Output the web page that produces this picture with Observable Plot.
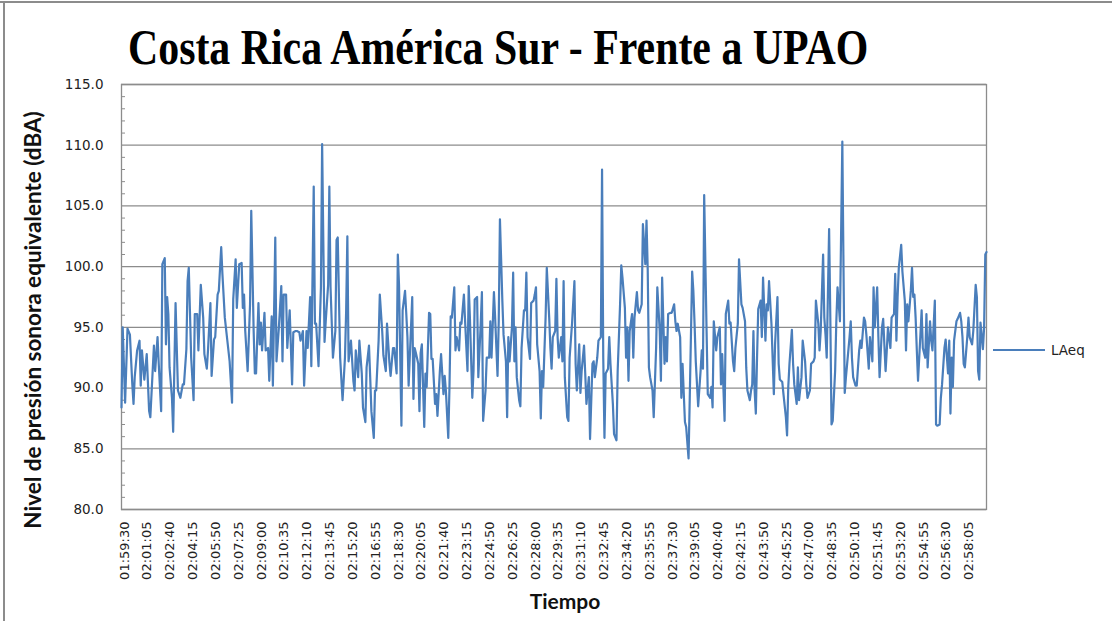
<!DOCTYPE html>
<html><head><meta charset="utf-8">
<script src="https://cdn.jsdelivr.net/npm/d3@7"></script>
<script src="https://cdn.jsdelivr.net/npm/@observablehq/plot@0.6"></script>
<style>
body{margin:0;background:#fff;overflow:hidden}
#wrap{position:relative;width:1112px;height:621px;overflow:hidden}
#head{position:relative;height:60px}
#title{position:absolute;left:128px;top:21px;font-family:"Liberation Serif",serif;font-weight:bold;font-size:51px;line-height:52px;white-space:nowrap;transform-origin:0 0;color:#000;z-index:2}
.bt{position:absolute;background:#8c8c8c}
#chart svg{display:block;overflow:visible}
#sw{position:absolute;left:993px;top:349px;width:52px;height:2.2px;background:#4a7ebb}
#lt{position:absolute;left:1051px;top:342px;font-family:"DejaVu Sans",sans-serif;font-size:13.5px;line-height:16px;color:#222}
</style></head>
<body><div id="wrap">
<div class="bt" style="left:0;top:1px;width:1112px;height:2px"></div>
<div class="bt" style="left:3px;top:1px;width:2px;height:620px"></div>
<div id="head"><span id="title"></span></div>
<div id="chart"></div>
<div id="sw"></div><div id="lt"></div>
</div>
<script>
const titulo = "Costa Rica América Sur - Frente a UPAO";
const ejeY = "Nivel de presión sonora equivalente (dBA)";
const ejeX = "Tiempo";
const serie = "LAeq";
const inicio = "01:59:30";
const etiquetas = ["01:59:30","02:01:05","02:02:40","02:04:15","02:05:50","02:07:25","02:09:00","02:10:35","02:12:10","02:13:45","02:15:20","02:16:55","02:18:30","02:20:05","02:21:40","02:23:15","02:24:50","02:26:25","02:28:00","02:29:35","02:31:10","02:32:45","02:34:20","02:35:55","02:37:30","02:39:05","02:40:40","02:42:15","02:43:50","02:45:25","02:47:00","02:48:35","02:50:10","02:51:45","02:53:20","02:54:55","02:56:30","02:58:05"];
const valoresY = [80,85,90,95,100,105,110,115];
const menoresY = [81,82,83,84,86,87,88,89,91,92,93,94,96,97,98,99,101,102,103,104,106,107,108,109,111,112,113,114];
// seconds after 01:59:30
const segundos = [0,5,15,25,35,45,50,55,65,75,80,85,95,105,115,120,135,140,150,155,165,170,180,185,190,195,200,210,215,225,235,245,255,260,270,275,280,290,300,305,315,320,330,340,345,355,360,370,375,385,390,400,405,415,420,430,440,450,460,465,475,480,490,500,505,510,515,525,535,540,550,555,560,570,575,580,585,595,600,610,615,625,630,640,645,655,665,670,675,685,690,700,710,715,725,730,740,745,755,760,770,775,785,790,800,805,810,820,830,835,845,850,860,865,870,880,890,895,900,910,920,930,935,940,945,955,965,970,975,985,990,1000,1005,1015,1020,1030,1035,1040,1050,1055,1060,1070,1075,1085,1090,1100,1105,1115,1120,1130,1135,1145,1150,1155,1165,1170,1180,1185,1190,1195,
1210,1215,1220,1225,1235,1240,1245,1250,1260,1265,1270,1280,1285,1290,1295,1305,1310,1315,1325,1330,1340,1345,1350,1360,1365,1370,1375,1385,1390,1395,1405,1410,1415,1425,1430,1440,1445,1450,1460,1465,1470,1480,1485,1495,1500,1505,1515,1520,1530,1535,1540,1550,1555,1565,1570,1575,1585,1590,1600,1605,1610,1615,1625,1630,1635,1640,1645,1655,1660,1665,1675,1680,1685,1690,1700,1705,1715,1720,1725,1730,1740,1745,1750,1755,1765,1770,1780,1785,1790,1795,1805,1810,1815,1820,1830,1835,1840,1845,1855,1860,1865,1875,1885,1890,1895,1905,1910,1915,1925,1930,1935,1945,1950,1960,1965,1970,1980,1985,1995,2000,2005,2010,2015,2025,2030,2035,2045,2050,2060,2065,2075,2080,2085,2095,2100,2105,2110,2115,2125,2130,2135,2145,2150,2155,2165,2170,2180,2185,2190,2195,2200,2210,2215,2225,2230,2240,2245,2250,2260,2265,2270,2275,2285,2290,2300,2305,2310,2315,2325,2330,2335,2345,2350,2360,2365,2375,2380,2385,2390,2400,
2410,2415,2420,2425,2435,2440,2450,2455,2460,2465,2475,2480,2490,2495,2500,2510,2515,2525,2530,2535,2545,2550,2555,2565,2570,2580,2585,2595,2600,2605,2615,2620,2625,2630,2635,2640,2645,2650,2660,2665,2670,2680,2685,2690,2695,2705,2715,2720,2730,2735,2740,2750,2755,2765,2770,2775,2780,2790,2795,2800,2810,2815,2820,2830,2835,2845,2850,2855,2865,2870,2880,2885,2890,2900,2905,2910,2920,2925,2930,2935,2945,2950,2955,2960,2970,2975,2980,2990,3000,3005,3010,3015,3020,3030,3035,3040,3045,3055,3060,3070,3075,3080,3090,3095,3100,3110,3115,3125,3130,3135,3145,3150,3155,3165,3170,3180,3185,3190,3200,3205,3215,3220,3225,3230,3235,3245,3250,3260,3265,3270,3275,3285,3290,3295,3300,3305,3310,3315,3325,3330,3335,3345,3350,3355,3365,3370,3375,3385,3390,3395,3405,3410,3415,3425,3430,3440,3445,3450,3455,3460,3465,3475,3480,3490,3495,3500,3505,3510,3520,3525,3530,3540,3545,3555,3560,3565,3570,3575,3585,3590,3595,3600];
const laeq = [88.4,95.0,88.8,94.9,94.4,90.3,88.7,90.9,93.1,93.9,90.2,93.1,90.7,92.8,88.1,87.6,93.5,91.4,94.2,92.0,88.1,100.2,100.7,93.6,97.5,96.1,91.7,89.2,86.4,97.0,89.8,89.2,90.3,90.3,93.2,98.8,99.9,92.5,89.0,96.1,96.1,93.1,98.5,95.8,92.8,91.6,93.1,97.0,91.0,94.0,94.2,97.7,98.0,101.6,99.4,95.8,94.0,92.2,88.8,97.3,100.6,96.6,100.2,100.3,96.6,97.7,94.7,91.4,96.9,104.6,94.7,91.2,91.2,97.0,93.6,95.4,93.1,96.2,93.1,93.3,90.6,95.9,90.2,102.4,92.2,95.0,98.4,92.2,97.7,97.7,93.3,96.4,90.3,94.6,94.7,94.7,94.6,93.9,94.7,90.2,94.7,93.3,97.5,91.8,106.6,95.3,95.3,91.8,98.3,110.1,93.8,95.5,98.5,106.6,98.3,92.5,94.7,102.2,102.4,92.5,89.0,92.5,96.4,102.5,92.2,93.9,90.6,89.8,93.1,90.9,93.9,91.2,88.4,87.2,91.7,93.5,90.9,88.1,85.9,89.8,89.8,93.9,97.7,94.7,92.7,91.4,95.3,92.1,91.0,93.3,93.3,91.2,101.0,98.5,86.9,96.4,98.0,96.2,94.2,90.2,
97.5,89.1,93.3,92.9,92.0,88.1,92.9,93.6,86.8,91.2,90.1,96.2,96.1,92.4,92.4,88.7,89.5,87.7,91.4,92.8,89.5,91.0,89.8,85.9,90.1,95.9,95.8,98.3,93.1,94.2,93.1,95.4,95.3,97.7,95.5,91.4,98.4,95.8,89.2,91.4,97.3,97.5,90.9,95.3,97.9,87.3,89.8,92.5,92.5,95.5,92.5,97.9,95.8,91.0,95.5,103.9,97.2,94.4,92.2,87.6,94.2,92.2,95.0,99.5,92.2,95.0,90.9,89.0,88.5,93.3,96.4,96.4,99.5,94.2,92.4,97.0,97.2,97.7,98.3,93.6,91.4,87.5,91.4,90.1,95.8,99.9,95.8,93.3,91.6,94.2,94.7,99.0,94.2,92.5,94.2,92.2,98.8,90.9,87.6,87.3,92.5,95.3,98.8,92.0,89.8,93.6,89.6,91.4,93.5,91.2,88.7,90.9,85.8,92.0,92.2,90.9,92.5,93.9,94.2,108.0,92.5,85.9,91.2,91.6,94.2,92.0,88.7,86.2,85.7,91.4,96.9,100.1,99.1,96.6,92.5,95.0,90.6,94.7,96.1,92.5,95.8,97.9,96.4,96.2,96.9,103.5,100.2,103.8,99.8,91.7,90.9,89.8,87.6,93.3,98.3,94.7,90.6,99.1,92.0,94.2,92.2,96.1,96.2,96.2,96.9,95.5,94.7,95.3,94.2,89.2,92.0,87.2,86.8,84.2,89.2,99.6,98.0,95.3,92.2,88.5,
91.4,93.1,91.6,105.9,94.7,89.5,89.2,90.1,88.4,95.5,93.1,94.2,95.0,90.3,92.8,87.3,96.1,97.2,95.3,95.4,92.2,91.4,93.3,95.3,100.6,96.9,96.6,95.5,91.7,89.8,89.0,89.8,90.3,94.7,89.8,87.9,92.5,96.5,97.2,94.2,99.1,93.9,96.9,96.4,98.8,95.3,89.5,93.6,97.5,92.0,90.7,90.5,89.5,87.6,86.1,90.1,92.0,94.8,92.0,90.3,88.7,91.7,89.0,90.9,93.9,92.2,90.3,89.2,89.8,92.0,92.2,92.5,97.2,95.3,93.1,94.7,101.0,95.8,94.4,92.5,103.1,95.8,87.0,87.3,91.4,95.5,98.3,95.5,110.3,99.6,89.6,90.9,92.0,94.2,95.5,92.5,90.9,90.2,90.2,93.1,93.9,93.3,95.8,95.5,94.4,91.6,94.2,92.2,98.3,95.0,98.3,94.2,90.9,95.0,95.7,91.4,93.1,95.0,93.3,95.8,96.1,99.4,93.9,97.5,99.9,101.8,99.6,97.2,93.1,96.9,95.5,98.0,99.9,97.5,97.7,95.8,93.1,90.6,94.4,96.4,93.3,92.5,96.1,91.7,95.5,93.9,93.1,97.2,87.0,86.9,87.0,89.2,90.3,93.3,94.0,91.2,93.9,87.9,92.5,90.1,93.9,95.5,95.7,96.2,95.5,94.2,92.0,91.7,94.2,95.8,94.2,93.6,94.7,98.5,97.5,91.4,90.7,95.4,93.2,95.0,101.0,101.2];

const toSec = s => { const [h, m, x] = s.split(":").map(Number); return h * 3600 + m * 60 + x; };
const t0 = toSec(inicio);
const datos = segundos.map((s, i) => ({t: s, v: laeq[i]}));
const tickPos = etiquetas.map(e => toSec(e) - t0);

document.getElementById("title").textContent = titulo;
document.getElementById("lt").textContent = serie;

const gris = "#8c8c8c";
const chart = Plot.plot({
  width: 1112, height: 561,
  marginTop: 24, marginBottom: 112, marginLeft: 121, marginRight: 126,
  style: {background: "transparent", fontFamily: "DejaVu Sans", color: "#222"},
  x: {domain: d3.extent(segundos)},
  y: {domain: d3.extent(valoresY)},
  marks: [
    Plot.gridY(valoresY, {stroke: gris, strokeOpacity: 1, strokeWidth: 1.3}),
    Plot.frame({stroke: gris, strokeWidth: 1.3}),
    Plot.axisY(menoresY, {tickSize: -4, tickFormat: () => "", stroke: gris, label: null}),
    Plot.axisY(valoresY, {tickSize: 0, tickPadding: 18, tickFormat: d => d.toFixed(1), fontSize: 13.5, label: null}),
    Plot.axisX(tickPos, {tickSize: 0, tickPadding: 12, tickRotate: -90, dx: 3, fontSize: 13, label: null,
      tickFormat: d => etiquetas[tickPos.indexOf(d)]}),
    Plot.line(datos, {x: "t", y: "v", stroke: "#4a7ebb", strokeWidth: 2.2}),
    Plot.text([ejeY], {text: d => d, frameAnchor: "left", textAnchor: "middle", rotate: -90, dx: -88, dy: 23, fontSize: 22.5, fontWeight: "bold", fontFamily: "Lato", fill: "#111"}),
    Plot.text([ejeX], {text: d => d, frameAnchor: "bottom", textAnchor: "middle", dx: 11, dy: 99, fontSize: 21, fontWeight: "bold", fontFamily: "Lato", fill: "#111"})
  ]
});
document.getElementById("chart").appendChild(chart);

const tt = document.getElementById("title");
const w = tt.offsetWidth;
tt.style.transform = `scaleX(${740 / w})`;
</script>
</body></html>
